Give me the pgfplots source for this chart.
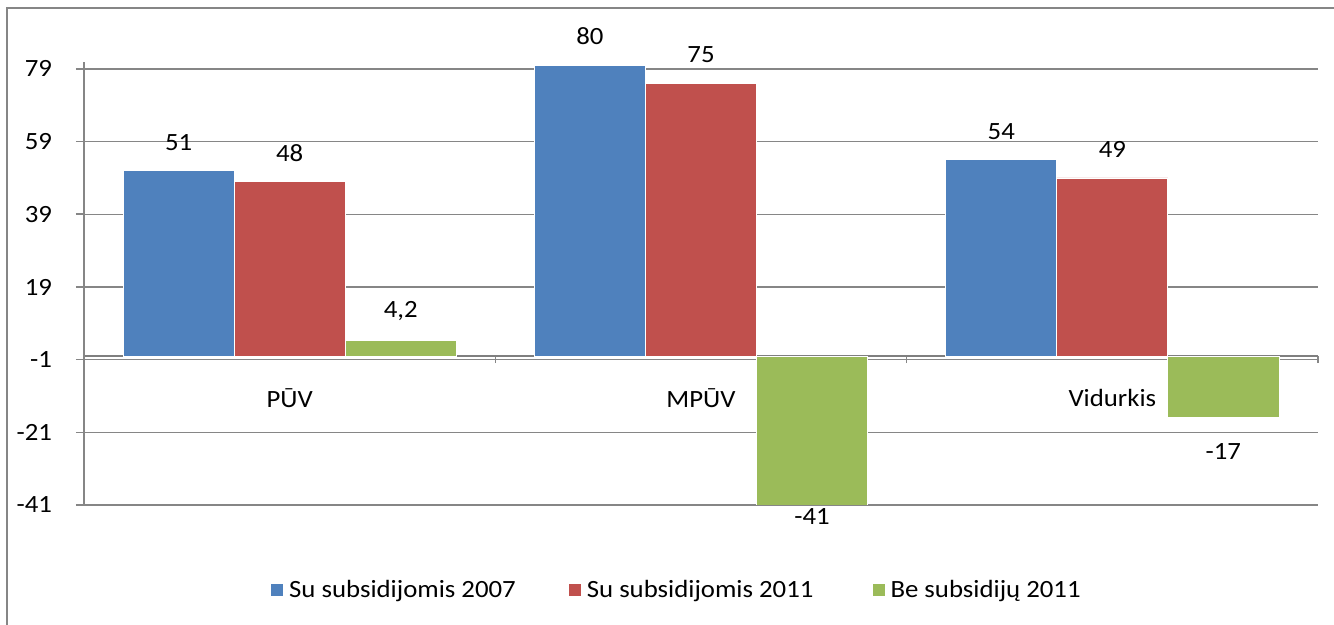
\documentclass[border=0pt]{standalone}
\usepackage{fontspec}
\setmainfont{Carlito}[FakeStretch=1.08]
\usepackage{pgfplots}
\pgfplotsset{compat=1.18}
\definecolor{cBlue}{HTML}{4F81BD}
\definecolor{cRed}{HTML}{C0504D}
\definecolor{cGreen}{HTML}{9BBB59}
\definecolor{cGrid}{HTML}{868686}
\definecolor{cAxis}{HTML}{7F7F7F}
\newcommand{\chartfont}{\fontsize{12.4}{14.8}\selectfont}
\pgfplotsset{
  mybar/.style={ybar, bar width=0.27, draw=white, line width=0.4pt,
    nodes near coords, point meta=explicit symbolic,
    every node near coord/.append style={inner sep=10pt, black, font=\chartfont},
    legend image code/.code={\fill[##1, draw=none] (0pt,-3pt) rectangle (6pt,3pt);}},
}
\begin{document}
\begin{tikzpicture}[font=\chartfont]
\useasboundingbox (0,0) rectangle (667pt,312.5pt);
\draw[cGrid, line width=0.9pt] (3.5pt,-2pt) -- (3.5pt,308.5pt) -- (670pt,308.5pt);
\begin{axis}[
  at={(42pt,60pt)}, anchor=south west,
  scale only axis, width=617pt, height=221.65pt,
  xmin=-0.5, xmax=2.5, ymin=-41, ymax=81,
  axis x line=middle, axis y line=left,
  axis line style={-},
  x axis line style={cAxis, line width=1.3pt},
  y axis line style={cGrid, line width=0.8pt},
  ytick={-41,-21,-1,19,39,59,79},
  yticklabels={-41,-21,-1,19,39,59,79},
  ymajorgrids, grid style={cGrid, line width=0.7pt},
  xtick={0,1,2}, xticklabels={PŪV,MPŪV,Vidurkis},
  minor xtick={0.5,1.5,2.5},
  every major x tick/.append style={draw=none},
  tick align=outside, major tick length=4pt, minor tick length=3.5pt,
  tick style={cGrid, line width=0.8pt},
  tick label style={font=\chartfont},
  xticklabel style={yshift=-9pt},
  yticklabel style={xshift=-8.5pt},
  legend style={at={(0.4813,-0.1917)}, anchor=center, draw=none, fill=none,
    legend columns=3, font=\chartfont,
    /tikz/column 1/.style={column sep=1pt},
    /tikz/column 3/.style={column sep=1pt},
    /tikz/column 5/.style={column sep=1pt},
    /tikz/column 2/.style={column sep=24.5pt},
    /tikz/column 4/.style={column sep=27.5pt}},
]
\addplot[mybar, bar shift=-0.27, fill=cBlue, every node near coord/.append style={xshift=-55.53pt}]
  coordinates {(0,51) [51] (1,80) [80] (2,54) [54]};
\addlegendentry{Su subsidijomis 2007}
\addplot[mybar, bar shift=0, fill=cRed]
  coordinates {(0,48) [48] (1,75) [75] (2,49) [49]};
\addlegendentry{Su subsidijomis 2011}
\addplot[mybar, bar shift=0.27, fill=cGreen, every node near coord/.append style={inner sep=10pt, xshift=55.53pt}]
  coordinates {(0,4.2) [4,2]};
\addlegendentry{Be subsidijų 2011}
\addplot[mybar, bar shift=0.27, fill=cGreen, forget plot, every node near coord/.append style={anchor=north, inner sep=12.5pt, xshift=55.53pt}]
  coordinates {(2,-17) [-17]};
\addplot[mybar, bar shift=0.27, fill=cGreen, forget plot, every node near coord/.append style={anchor=north, inner sep=1.5pt, xshift=55.53pt}]
  coordinates {(1,-41) [-41]};
\end{axis}
\end{tikzpicture}
\end{document}
